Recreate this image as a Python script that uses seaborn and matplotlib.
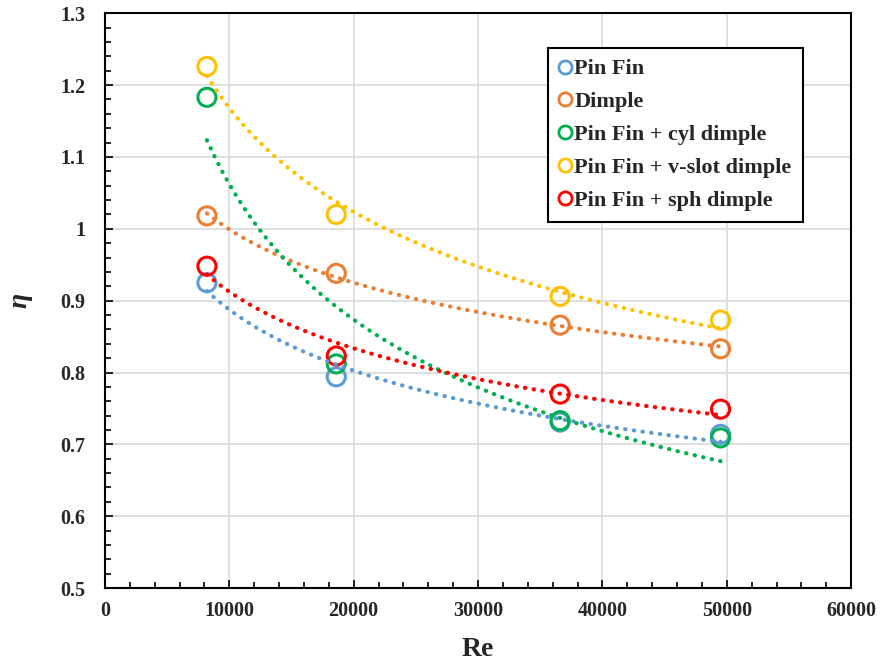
import numpy as np
import pandas as pd
import matplotlib
matplotlib.use("Agg")
import matplotlib.pyplot as plt
from matplotlib.lines import Line2D
from matplotlib.ticker import MultipleLocator
import seaborn as sns

# Reynolds numbers tested
re_vals = [8200, 18600, 36600, 49500]

# Thermal performance factor per configuration
pin_fin = [0.925, 0.794, 0.731, 0.714]
dimple = [1.018, 0.938, 0.866, 0.833]
pin_cyl = [1.183, 0.812, 0.733, 0.709]
pin_vslot = [1.226, 1.020, 0.906, 0.873]
pin_sph = [0.948, 0.823, 0.770, 0.749]

labels = ["Pin Fin", "Dimple", "Pin Fin + cyl dimple",
          "Pin Fin + v-slot dimple", "Pin Fin + sph dimple"]
series = [pin_fin, dimple, pin_cyl, pin_vslot, pin_sph]
colors = ["#5B9BD5", "#ED7D31", "#00B050", "#FFC000", "#FF0000"]

x_ticks = [0, 10000, 20000, 30000, 40000, 50000, 60000]
y_ticks = [0.5, 0.6, 0.7, 0.8, 0.9, 1.0, 1.1, 1.2, 1.3]

sns.set_theme(style="white")
plt.rcParams["font.family"] = ["Liberation Serif", "DejaVu Serif"]
plt.rcParams["font.weight"] = "bold"

fig = plt.figure(figsize=(8.82, 6.63), dpi=100)
ax = fig.add_axes([0.119, 0.113, 0.846, 0.867])

df = pd.DataFrame({
    "Re": np.tile(re_vals, len(series)),
    "eta": np.concatenate(series),
    "config": np.repeat(labels, len(re_vals)),
})

# open-circle markers
for lab, col in zip(labels, colors):
    sub = df[df["config"] == lab]
    sns.scatterplot(data=sub, x="Re", y="eta", ax=ax, s=170, marker="o",
                    facecolors="none", edgecolor=col, linewidth=2.2,
                    legend=False, zorder=3)

# power-law trend lines (least squares in log-log space)
for lab, col in zip(labels, colors):
    sub = df[df["config"] == lab]
    b, a = np.polyfit(np.log(sub["Re"]), np.log(sub["eta"]), 1)
    xs = np.linspace(sub["Re"].min(), sub["Re"].max(), 200)
    fit = pd.DataFrame({"Re": xs, "eta": np.exp(a) * xs ** b})
    sns.lineplot(data=fit, x="Re", y="eta", ax=ax, color=col, lw=3.0,
                 linestyle=(0, (0.1, 2.0)), dash_capstyle="round",
                 legend=False, zorder=4)

ax.set_xlim(0, 60000)
ax.set_ylim(0.5, 1.3)
ax.set_xticks(x_ticks)
ax.set_yticks(y_ticks)
ax.set_xticklabels([str(v) for v in x_ticks])
ax.set_yticklabels(["0.5", "0.6", "0.7", "0.8", "0.9", "1", "1.1", "1.2", "1.3"])
ax.xaxis.set_minor_locator(MultipleLocator(2000))
ax.yaxis.set_minor_locator(MultipleLocator(0.02))
ax.tick_params(which="both", direction="in", color="black", bottom=True, left=True,
               labelsize=14.5)
ax.tick_params(axis="x", which="both", pad=9)
ax.tick_params(axis="y", which="both", pad=14)
ax.tick_params(which="major", length=6, width=1.2)
ax.tick_params(which="minor", length=4, width=1.2)
for lbl in ax.get_xticklabels() + ax.get_yticklabels():
    lbl.set_fontweight("bold")

ax.grid(True, which="major", color="#d9d9d9", lw=1.2)
ax.set_axisbelow(True)
for sp in ax.spines.values():
    sp.set_color("black")
    sp.set_linewidth(1.5)

ax.set_xlabel("Re", fontsize=20, fontweight="bold", labelpad=12)
ax.set_ylabel("η", fontsize=20, fontweight="bold", style="italic", labelpad=20)

handles = [Line2D([], [], marker="o", linestyle="none", markersize=9.5,
                  markerfacecolor="none", markeredgecolor=c, markeredgewidth=2)
           for c in colors]
leg = ax.legend(handles, labels, loc="upper left", bbox_to_anchor=(0.594, 0.94),
                frameon=True, fancybox=False, edgecolor="black", framealpha=1,
                prop={"size": 16, "weight": "bold"}, handlelength=0.55,
                handletextpad=0.12, labelspacing=0.55, borderpad=0.5,
                borderaxespad=0)
leg.get_frame().set_linewidth(1.5)

fig.savefig("out.png", dpi=100)
